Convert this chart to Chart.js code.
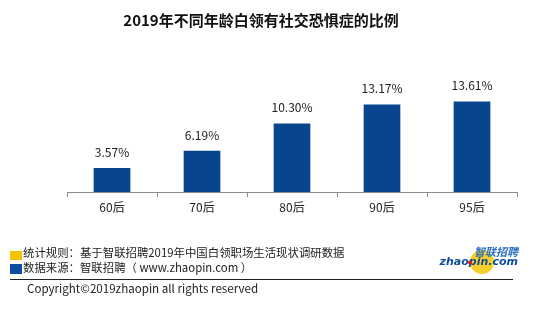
<!DOCTYPE html>
<html lang="zh-CN">
<head>
<meta charset="UTF-8" />
<title>2019年不同年龄白领有社交恐惧症的比例</title>
<script src="https://cdn.jsdelivr.net/npm/chart.js@4.4.0/dist/chart.umd.min.js"></script>
<style>
  html, body { margin: 0; padding: 0; background: #fff; }
  #wrap { width: 554px; height: 323px; position: relative; }
</style>
</head>
<body>
<div id="wrap"><canvas id="chart" width="554" height="323"></canvas></div>
<script>
// 年龄段与占比（%）
const generations = ['60后', '70后', '80后', '90后', '95后'];
const ratios = [3.57, 6.19, 10.30, 13.17, 13.61];

const titleText = '2019年不同年龄白领有社交恐惧症的比例';
const noteRule = '统计规则：基于智联招聘2019年中国白领职场生活现状调研数据';
const noteSource = '数据来源：智联招聘（ www.zhaopin.com ）';
const copyright = 'Copyright©2019zhaopin all rights reserved';

const CJK = '"Microsoft YaHei", "Noto Sans CJK SC", sans-serif';
const BLUE = '#07468f';

// 柱顶数值标签
const valueLabels = {
  id: 'valueLabels',
  afterDatasetsDraw(chart) {
    const ctx = chart.ctx;
    const meta = chart.getDatasetMeta(0);
    ctx.save();
    ctx.font = '12px ' + CJK;
    ctx.fillStyle = '#222';
    ctx.textAlign = 'center';
    ctx.textBaseline = 'middle';
    meta.data.forEach((bar, i) => {
      ctx.fillText(ratios[i].toFixed(2) + '%', bar.x, bar.y - 16);
    });
    ctx.restore();
  }
};

// 标题、说明、版权和标志
const decorations = {
  id: 'decorations',
  afterDraw(chart) {
    const ctx = chart.ctx;
    ctx.save();
    ctx.fillStyle = '#111';
    ctx.textBaseline = 'middle';
    ctx.textAlign = 'center';
    ctx.font = 'bold 15px ' + CJK;
    ctx.fillText(titleText, 261, 20);

    ctx.textAlign = 'left';
    ctx.fillStyle = '#f5c400';
    ctx.fillRect(10, 251, 12, 9);
    ctx.fillStyle = '#0b4ea2';
    ctx.fillRect(10, 264, 12, 10);

    ctx.fillStyle = '#222';
    ctx.font = '11.4px ' + CJK;
    ctx.fillText(noteRule, 23, 253);
    ctx.fillText(noteSource, 23, 268);

    ctx.strokeStyle = '#222';
    ctx.lineWidth = 1;
    ctx.beginPath();
    ctx.moveTo(10, 279.5);
    ctx.lineTo(513, 279.5);
    ctx.stroke();

    ctx.font = '11.6px ' + CJK;
    ctx.fillText(copyright, 27, 289);

    // logo
    ctx.fillStyle = '#f7cf2a';
    ctx.beginPath();
    ctx.arc(482, 262, 12, 0, Math.PI * 2);
    ctx.fill();
    ctx.textAlign = 'right';
    ctx.fillStyle = '#2f6fc0';
    ctx.font = 'italic bold 11px ' + CJK;
    ctx.fillText('智联招聘', 518, 252);
    ctx.fillStyle = '#0f4c9c';
    ctx.font = 'italic bold 11px "DejaVu Sans", sans-serif';
    ctx.fillText('zhaopin.com', 518, 262);
    ctx.fillStyle = '#d8231c';
    ctx.beginPath();
    ctx.arc(470, 262.5, 2, 0, Math.PI * 2);
    ctx.fill();
    ctx.restore();
  }
};

new Chart(document.getElementById('chart'), {
  type: 'bar',
  data: {
    labels: generations,
    datasets: [{
      data: ratios,
      backgroundColor: BLUE,
      barThickness: 36
    }]
  },
  options: {
    responsive: false,
    animation: false,
    layout: { padding: { top: 86, left: 67, right: 37, bottom: 0 } },
    plugins: {
      legend: { display: false },
      tooltip: { enabled: false }
    },
    scales: {
      x: {
        afterFit(scale) { scale.height = 131; },
        grid: {
          offset: true,
          drawOnChartArea: false,
          drawTicks: true,
          tickLength: 5,
          color: '#8c8c8c'
        },
        border: { display: true, color: '#8c8c8c' },
        ticks: {
          padding: 3,
          color: '#222',
          font: { family: CJK, size: 12 }
        }
      },
      y: {
        display: false,
        min: 0,
        max: 16
      }
    }
  },
  plugins: [valueLabels, decorations]
});
</script>
</body>
</html>
